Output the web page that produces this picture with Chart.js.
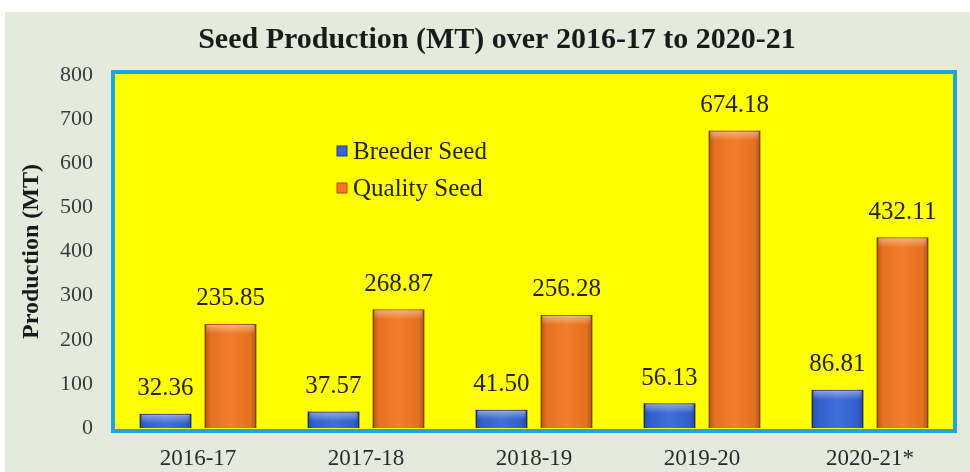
<!DOCTYPE html>
<html>
<head>
<meta charset="utf-8">
<script src="https://cdn.jsdelivr.net/npm/chart.js@4/dist/chart.umd.min.js"></script>
<style>
  html, body { margin: 0; padding: 0; background: #ffffff; }
  #wrap { width: 970px; height: 472px; }
</style>
</head>
<body>
<div id="wrap"><canvas id="seedChart" width="970" height="472"></canvas></div>
<script>
// --- Data ---
const seasons = ['2016-17', '2017-18', '2018-19', '2019-20', '2020-21*'];
const breederSeed = [32.36, 37.57, 41.50, 56.13, 86.81];
const qualitySeed = [235.85, 268.87, 256.28, 674.18, 432.11];
const yTicks = [0, 100, 200, 300, 400, 500, 600, 700, 800];

const SERIF = '"Liberation Serif", "Times New Roman", serif';

// --- Plugins ---
const backdrop = {
    id: 'backdrop',
    beforeDraw(chart) {
        const { ctx, chartArea: a } = chart;
        ctx.save();
        ctx.fillStyle = '#ffffff';
        ctx.fillRect(0, 0, chart.width, chart.height);
        ctx.fillStyle = '#e4ebdd';
        ctx.fillRect(5, 12, chart.width - 5, chart.height - 12);
        ctx.fillStyle = '#ffff00';
        ctx.fillRect(a.left, a.top - 2, a.right - a.left, a.bottom - a.top + 4);
        ctx.strokeStyle = '#1ea6dc';
        ctx.lineWidth = 4;
        ctx.strokeRect(a.left - 1, a.top - 3, a.right - a.left + 2, a.bottom - a.top + 6);
        // title
        ctx.fillStyle = '#1a1a1a';
        ctx.font = 'bold 30px ' + SERIF;
        ctx.textAlign = 'center';
        ctx.textBaseline = 'middle';
        ctx.fillText('Seed Production (MT) over 2016-17 to 2020-21', 497, 40);
        ctx.restore();
    }
};

// soft 3d look on the bars
const barShade = {
    id: 'barShade',
    afterDatasetsDraw(chart) {
        const { ctx } = chart;
        ctx.save();
        chart.data.datasets.forEach((ds, i) => {
            chart.getDatasetMeta(i).data.forEach(bar => {
                const l = bar.x - bar.width / 2, r = bar.x + bar.width / 2;
                const h = bar.base - bar.y;
                const g = ctx.createLinearGradient(l, 0, r, 0);
                g.addColorStop(0, 'rgba(0,0,0,0.28)');
                g.addColorStop(0.12, 'rgba(0,0,0,0.05)');
                g.addColorStop(0.5, 'rgba(255,255,255,0.06)');
                g.addColorStop(0.88, 'rgba(0,0,0,0.05)');
                g.addColorStop(1, 'rgba(0,0,0,0.28)');
                ctx.fillStyle = g;
                ctx.fillRect(l, bar.y, r - l, h);
                const t = ctx.createLinearGradient(0, bar.y, 0, bar.y + Math.min(10, h));
                t.addColorStop(0, 'rgba(255,255,255,0.45)');
                t.addColorStop(1, 'rgba(255,255,255,0)');
                ctx.fillStyle = t;
                ctx.fillRect(l + 2, bar.y + 1, r - l - 4, Math.min(10, h - 1));
            });
        });
        ctx.restore();
    }
};

const valueLabels = {
    id: 'valueLabels',
    afterDatasetsDraw(chart) {
        const { ctx } = chart;
        ctx.save();
        ctx.fillStyle = '#24240c';
        ctx.font = '25px ' + SERIF;
        ctx.textAlign = 'center';
        ctx.textBaseline = 'middle';
        chart.data.datasets.forEach((ds, i) => {
            chart.getDatasetMeta(i).data.forEach((bar, j) => {
                ctx.fillText(ds.data[j].toFixed(2), bar.x, bar.y - 25);
            });
        });
        ctx.restore();
    }
};

const innerLegend = {
    id: 'innerLegend',
    afterDraw(chart) {
        const { ctx, chartArea: a } = chart;
        ctx.save();
        ctx.font = '25px ' + SERIF;
        ctx.textBaseline = 'middle';
        ctx.textAlign = 'left';
        chart.data.datasets.forEach((ds, i) => {
            const x = a.left + 223;
            const y = a.top + 76 + i * 37;
            ctx.fillStyle = ds.backgroundColor;
            ctx.fillRect(x, y - 5, 10, 10);
            ctx.strokeStyle = ds.borderColor;
            ctx.lineWidth = 1;
            ctx.strokeRect(x, y - 5, 10, 10);
            ctx.fillStyle = '#24240c';
            ctx.fillText(ds.label, x + 16, y + 1);
        });
        ctx.restore();
    }
};

// --- Chart ---
new Chart(document.getElementById('seedChart'), {
    type: 'bar',
    data: {
        labels: seasons,
        datasets: [
            {
                label: 'Breeder Seed',
                data: breederSeed,
                backgroundColor: '#3565d6',
                borderColor: '#1d3a8a',
                borderWidth: 1.5,
                categoryPercentage: 0.774,
                barPercentage: 0.8
            },
            {
                label: 'Quality Seed',
                data: qualitySeed,
                backgroundColor: '#f27620',
                borderColor: '#b24d0e',
                borderWidth: 1.5,
                categoryPercentage: 0.774,
                barPercentage: 0.8
            }
        ]
    },
    options: {
        responsive: false,
        animation: false,
        layout: { padding: { top: 75, right: 16, left: 0, bottom: 0 } },
        plugins: {
            legend: { display: false },
            tooltip: { enabled: false }
        },
        scales: {
            x: {
                grid: { display: false, drawTicks: false },
                border: { display: false },
                ticks: { color: '#2a2a2a', font: { family: SERIF, size: 23 }, padding: 17 },
                afterFit: s => { s.height = 44; }
            },
            y: {
                min: 0,
                max: 800,
                afterBuildTicks: s => { s.ticks = yTicks.map(v => ({ value: v })); },
                grid: { display: false, drawTicks: false },
                border: { display: false },
                ticks: { color: '#3a3a3a', font: { family: SERIF, size: 22 }, padding: 21 },
                title: {
                    display: true,
                    text: 'Production (MT)',
                    color: '#1a1a1a',
                    font: { family: SERIF, size: 24, weight: 'bold' },
                    padding: { top: 17, bottom: 0 }
                },
                afterFit: s => { s.width = 114; }
            }
        }
    },
    plugins: [backdrop, barShade, valueLabels, innerLegend]
});
</script>
</body>
</html>
